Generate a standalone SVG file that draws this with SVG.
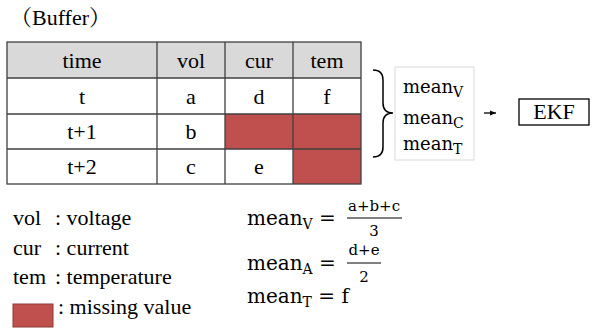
<svg xmlns="http://www.w3.org/2000/svg" width="600" height="329" viewBox="0 0 600 329">
<style>
.t{font-family:"Liberation Serif","Times New Roman",serif;font-size:22px;fill:#000}
.cjk{font-family:"Liberation Serif","Noto Serif CJK JP","Noto Sans CJK JP",serif}
.c{text-anchor:middle}
.m{font-family:"DejaVu Serif",serif;font-size:18px;fill:#000}
.f{font-family:"DejaVu Serif",serif;font-size:20px;fill:#000}
.s{font-size:14px}
.fr{font-family:"DejaVu Serif",serif;font-size:15px;fill:#000;text-anchor:middle}
.grid{stroke:#404040;stroke-width:1.3;fill:none}
.miss{fill:#c0504d}
</style>
<defs>
<marker id="ah" viewBox="0 0 10 10" refX="10" refY="5" markerUnits="userSpaceOnUse" markerWidth="6" markerHeight="6" orient="auto">
<path d="M0,1 L10,5 L0,9 z" fill="#000"/>
</marker>
</defs>
<text class="t cjk" x="10" y="25">（Buffer）</text>
<g id="table">
<rect x="7" y="42" width="354" height="36" fill="#d9d9d9"/>
<rect x="7" y="78" width="354" height="106" fill="#fff"/>
<rect class="miss" x="225" y="114" width="68" height="35"/>
<rect class="miss" x="293" y="114" width="68" height="35"/>
<rect class="miss" x="293" y="149" width="68" height="35"/>
<rect class="grid" x="7" y="42" width="354" height="142"/>
<path class="grid" d="M7,78H361M7,114H361M7,149H361M157,42V184M225,42V184M293,42V184"/>
<text class="t c" x="82" y="68">time</text>
<text class="t c" x="191" y="68">vol</text>
<text class="t c" x="259" y="68">cur</text>
<text class="t c" x="327" y="68">tem</text>
<text class="t c" x="82" y="104">t</text>
<text class="t c" x="191" y="104">a</text>
<text class="t c" x="259" y="104">d</text>
<text class="t c" x="327" y="104">f</text>
<text class="t c" x="82" y="139">t+1</text>
<text class="t c" x="191" y="139">b</text>
<text class="t c" x="82" y="174">t+2</text>
<text class="t c" x="191" y="174">c</text>
<text class="t c" x="259" y="174">e</text>
</g>
<g id="connectors">
<path d="M373,70 Q383,70 383,80 L383,103 Q383,113 393,113 Q383,113 383,123 L383,147 Q383,157 373,157" fill="none" stroke="#000" stroke-width="1.5"/>
<line x1="484" y1="113" x2="496" y2="113" stroke="#000" stroke-width="1.3" marker-end="url(#ah)"/>
</g>
<g id="means">
<rect x="395" y="67" width="79" height="93" fill="#fff" stroke="#d9d9d9" stroke-width="1"/>
<text class="m" x="403" y="93">mean<tspan class="s" dy="4">V</tspan></text>
<text class="m" x="403" y="124">mean<tspan class="s" dy="4">C</tspan></text>
<text class="m" x="403" y="150">mean<tspan class="s" dy="4">T</tspan></text>
</g>
<g id="ekf">
<rect x="519" y="99" width="70" height="26" fill="#fff" stroke="#000" stroke-width="1.3"/>
<text class="t c" x="554" y="119">EKF</text>
</g>
<g id="legend">
<text class="t" x="13" y="225">vol</text>
<text class="t" x="55" y="225">: voltage</text>
<text class="t" x="13" y="255">cur</text>
<text class="t" x="55" y="255">: current</text>
<text class="t" x="13" y="284">tem</text>
<text class="t" x="55" y="284">: temperature</text>
<rect class="miss" x="13" y="304" width="40" height="23" stroke="#8b3a38" stroke-width="1"/>
<text class="t" x="58" y="314">: missing value</text>
</g>
<g id="formulas">
<text class="f" x="247" y="225">mean<tspan class="s" dy="4">V</tspan><tspan dy="-4"> = </tspan></text>
<text class="fr" x="374" y="211">a+b+c</text>
<line x1="347" y1="218" x2="402" y2="218" stroke="#000" stroke-width="1"/>
<text class="fr" x="374" y="236">3</text>
<text class="f" x="247" y="270">mean<tspan class="s" dy="4">A</tspan><tspan dy="-4"> = </tspan></text>
<text class="fr" x="364" y="255">d+e</text>
<line x1="347" y1="263" x2="381" y2="263" stroke="#000" stroke-width="1"/>
<text class="fr" x="364" y="282">2</text>
<text class="f" x="247" y="303">mean<tspan class="s" dy="4">T</tspan><tspan dy="-4"> = f</tspan></text>
</g>
</svg>
